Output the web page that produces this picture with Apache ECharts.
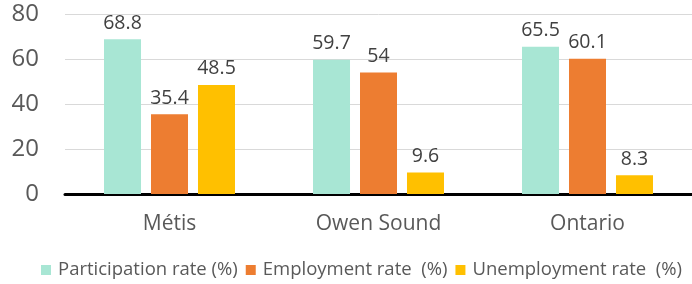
<!DOCTYPE html>
<html>
<head>
<meta charset="utf-8">
<script src="https://cdn.jsdelivr.net/npm/echarts@6/dist/echarts.min.js"></script>
<style>
	html, body { margin: 0; padding: 0; background: #fff; }
	#chart { width: 692px; height: 284px; }
</style>
</head>
<body>
<div id="chart"></div>
<script>
var categories = ['Métis', 'Owen Sound', 'Ontario'];
var seriesNames = ['Participation rate (%)', 'Employment rate  (%)', 'Unemployment rate  (%)'];
var participation = [68.8, 59.7, 65.5];
var employment = [35.4, 54, 60.1];
var unemployment = [48.5, 9.6, 8.3];
var colors = ['#a8e6d4', '#ed7d31', '#ffc000'];

var myChart = echarts.init(document.getElementById('chart'));
var font = '"Open Sans", sans-serif';

function bar(name, data) {
	return {
		name: name,
		type: 'bar',
		barWidth: 37,
		barGap: '27%',
		label: {
			show: true,
			position: 'top',
			distance: 6,
			color: '#404040',
			fontFamily: font,
			fontSize: 19.5
		},
		data: data
	};
}

var option = {
	color: colors,
	animation: false,
	grid: {
		left: 65,
		right: -3,
		top: 14,
		bottom: 90
	},
	legend: {
		top: 260,
		left: 41,
		padding: 0,
		itemWidth: 10,
		itemHeight: 10,
		itemGap: 8,
		icon: 'rect',
		textStyle: {
			color: '#595959',
			fontFamily: font,
			fontSize: 18.5,
			lineHeight: 20,
			padding: [0, 0, 0, 2]
		},
		data: seriesNames
	},
	xAxis: {
		type: 'category',
		data: categories,
		axisLine: {
			lineStyle: { color: '#000', width: 3 }
		},
		axisTick: { show: false },
		axisLabel: {
			color: '#595959',
			fontFamily: font,
			fontSize: 21,
			margin: 20
		}
	},
	yAxis: {
		type: 'value',
		min: 0,
		max: 80,
		interval: 20,
		axisLine: { show: false },
		axisTick: { show: false },
		axisLabel: {
			color: '#595959',
			fontFamily: font,
			fontSize: 24,
			margin: 26
		},
		splitLine: {
			lineStyle: { color: '#d9d9d9', width: 1 }
		}
	},
	series: [
		bar(seriesNames[0], participation),
		bar(seriesNames[1], employment),
		bar(seriesNames[2], unemployment)
	]
};
myChart.setOption(option);
</script>
</body>
</html>
